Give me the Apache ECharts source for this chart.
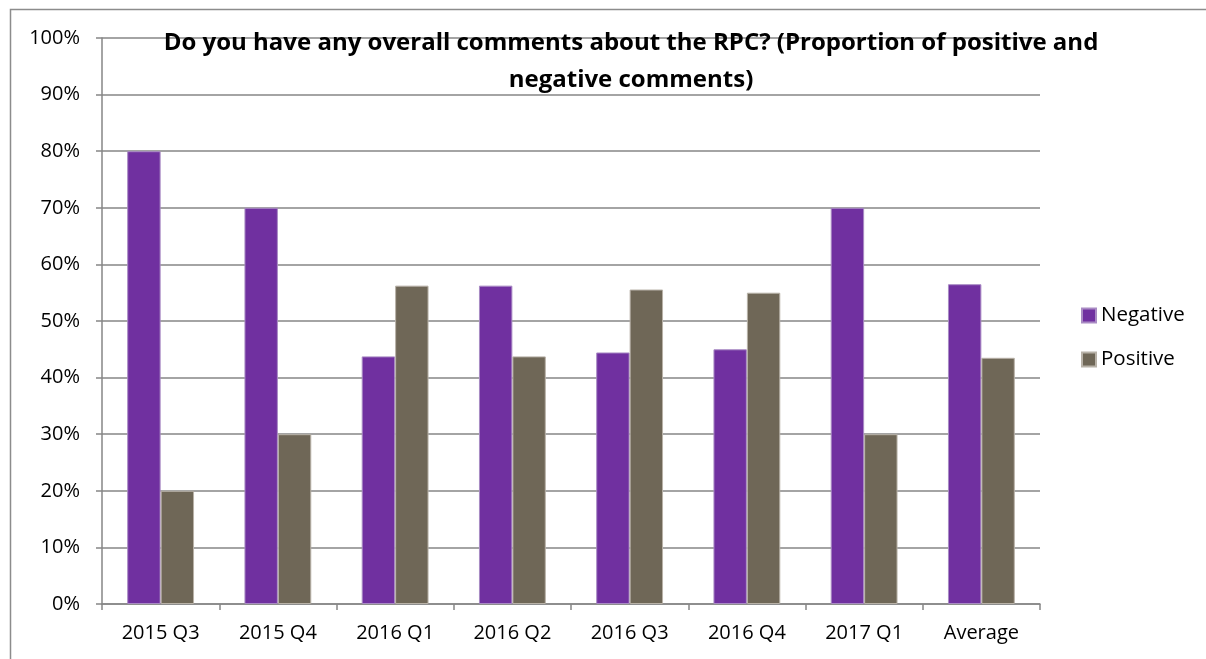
<!DOCTYPE html>
<html><head><meta charset="utf-8">
<script src="https://cdn.jsdelivr.net/npm/echarts@6/dist/echarts.min.js"></script>
<style>html,body{margin:0;padding:0;background:#fff}#c{width:1206px;height:659px}</style>
</head><body><div id="c"></div>
<script>
const categories = ['2015 Q3','2015 Q4','2016 Q1','2016 Q2','2016 Q3','2016 Q4','2017 Q1','Average'];
const negative = [80, 70, 43.75, 56.25, 44.44, 45, 70, 56.5];
const positive = [20, 30, 56.25, 43.75, 55.56, 55, 30, 43.5];
const titleText = 'Do you have any overall comments about the RPC? (Proportion of positive and\nnegative comments)';
const FONT = 'Open Sans';
const chart = echarts.init(document.getElementById('c'));
chart.setOption({
  animation: false,
  graphic: [{type:'rect', shape:{x:10.5,y:9.5,width:1400,height:1000}, style:{fill:'none',stroke:'#8c8c8c',lineWidth:1.5}, silent:true, z:-10}],
  title: {text: titleText, left: 626, top: 20, textAlign: 'center',
    textStyle:{fontFamily:FONT, fontWeight:'bold', fontSize:24, color:'#000', lineHeight:37}},
  legend: {orient:'vertical', left:1076, top:300, itemWidth:14, itemHeight:14, itemGap:23,
    textStyle:{fontFamily:FONT, fontSize:20.5, color:'#000', padding:[0,0,0,0]}, icon:'rect'},
  grid: {left:102, right:166, top:38, bottom:55},
  xAxis: {type:'category', data:categories,
    axisLine:{lineStyle:{color:'#868686', width:1.5}},
    axisTick:{show:true, length:6, alignWithLabel:false, lineStyle:{color:'#868686', width:1.5}},
    axisLabel:{fontFamily:FONT, fontSize:20, color:'#000', margin:19}},
  yAxis: {type:'value', min:0, max:100, interval:10,
    axisLine:{show:true, lineStyle:{color:'#868686', width:1.5}},
    axisTick:{show:true, length:6, lineStyle:{color:'#868686', width:1.5}},
    splitLine:{lineStyle:{color:'#868686', width:1.5}},
    axisLabel:{fontFamily:FONT, fontSize:20, color:'#000', margin:22, formatter:'{value}%'}},
  series: [
    {name:'Negative', type:'bar', data:negative, barGap:'0%', barCategoryGap:'43%',
      itemStyle:{color:'#7030A0', borderColor:'#a98bc4', borderWidth:1}},
    {name:'Positive', type:'bar', data:positive,
      itemStyle:{color:'#6F6757', borderColor:'#b8b2a8', borderWidth:1}}
  ]
});
</script></body></html>
